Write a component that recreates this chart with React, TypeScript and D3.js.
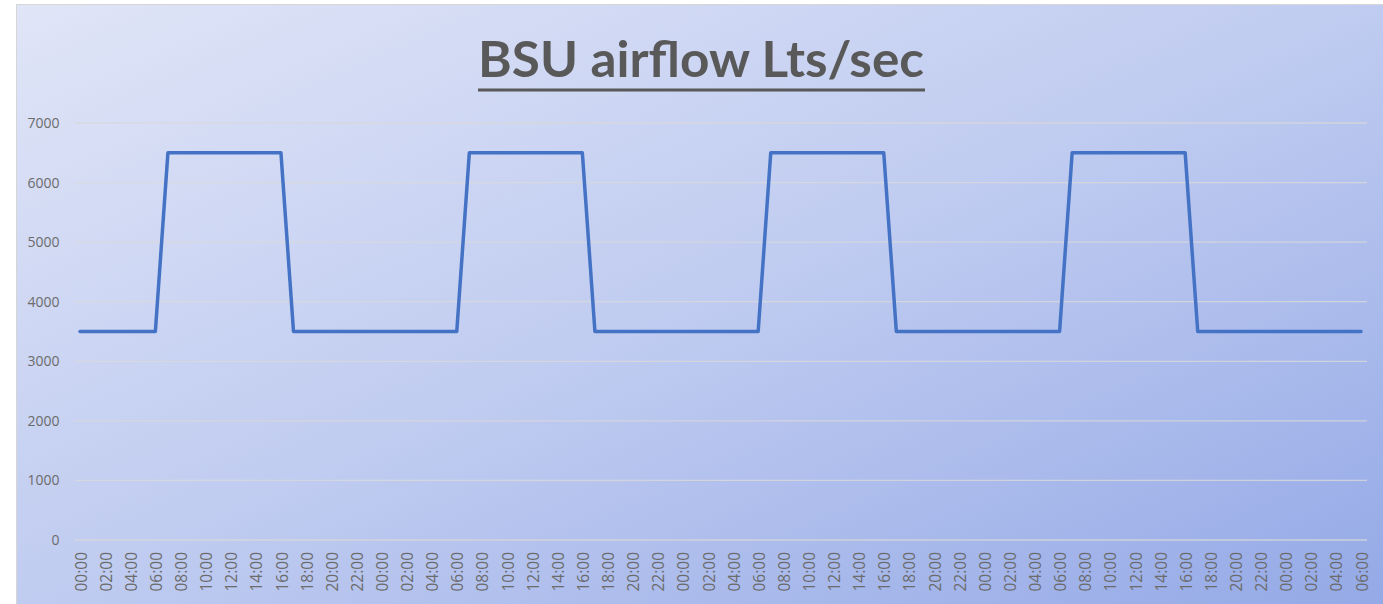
import React from "react";
import * as d3 from "d3";

const title = "BSU airflow Lts/sec";

const times: string[] = [
  "00:00","01:00","02:00","03:00","04:00","05:00","06:00","07:00","08:00","09:00","10:00","11:00",
  "12:00","13:00","14:00","15:00","16:00","17:00","18:00","19:00","20:00","21:00","22:00","23:00",
  "00:00","01:00","02:00","03:00","04:00","05:00","06:00","07:00","08:00","09:00","10:00","11:00",
  "12:00","13:00","14:00","15:00","16:00","17:00","18:00","19:00","20:00","21:00","22:00","23:00",
  "00:00","01:00","02:00","03:00","04:00","05:00","06:00","07:00","08:00","09:00","10:00","11:00",
  "12:00","13:00","14:00","15:00","16:00","17:00","18:00","19:00","20:00","21:00","22:00","23:00",
  "00:00","01:00","02:00","03:00","04:00","05:00","06:00","07:00","08:00","09:00","10:00","11:00",
  "12:00","13:00","14:00","15:00","16:00","17:00","18:00","19:00","20:00","21:00","22:00","23:00",
  "00:00","01:00","02:00","03:00","04:00","05:00","06:00",
];

const airflow: number[] = [
  3500,3500,3500,3500,3500,3500,3500,6500,6500,6500,6500,6500,
  6500,6500,6500,6500,6500,3500,3500,3500,3500,3500,3500,3500,
  3500,3500,3500,3500,3500,3500,3500,6500,6500,6500,6500,6500,
  6500,6500,6500,6500,6500,3500,3500,3500,3500,3500,3500,3500,
  3500,3500,3500,3500,3500,3500,3500,6500,6500,6500,6500,6500,
  6500,6500,6500,6500,6500,3500,3500,3500,3500,3500,3500,3500,
  3500,3500,3500,3500,3500,3500,3500,6500,6500,6500,6500,6500,
  6500,6500,6500,6500,6500,3500,3500,3500,3500,3500,3500,3500,
  3500,3500,3500,3500,3500,3500,3500,
];

const yTicks: number[] = [0, 1000, 2000, 3000, 4000, 5000, 6000, 7000];

export default function App() {
  const W = 1383;
  const H = 604;
  const x = d3.scalePoint<number>().domain(times.map((_, i) => i)).range([80, 1361]);
  const y = d3.scaleLinear().domain([0, 7000]).range([540, 123]);
  const line = d3
    .line<number>()
    .x((_, i) => x(i) as number)
    .y((d) => y(d));
  const gridX0 = 74.5;
  const gridX1 = 1367;
  const labelColor = "#6b6b6b";
  const font = "'Open Sans', sans-serif";

  return (
    <svg
      width={W}
      height={H}
      style={{ position: "absolute", left: 0, top: 0, display: "block" }}
    >
      <defs>
        <linearGradient id="bg" x1="0" y1="0" x2="1" y2="1">
          <stop offset="0" stopColor="#e0e5f7" />
          <stop offset="0.5" stopColor="#bfcbf0" />
          <stop offset="1" stopColor="#93a8e6" />
        </linearGradient>
      </defs>
      <rect x={0} y={0} width={W} height={H} fill="#ffffff" />
      <rect
        x={16.5}
        y={4.5}
        width={1380}
        height={610}
        fill="url(#bg)"
        stroke="#d6d6d6"
        strokeWidth={1}
      />
      {yTicks.map((t) => (
        <g key={t}>
          <line
            x1={gridX0}
            x2={gridX1}
            y1={y(t)}
            y2={y(t)}
            stroke="#d9d9d9"
            strokeOpacity={0.8}
            strokeWidth={1.3}
          />
          <text
            x={59.5}
            y={y(t)}
            dy="0.36em"
            textAnchor="end"
            fontFamily={font}
            fontSize={14}
            fill={labelColor}
          >
            {t}
          </text>
        </g>
      ))}
      {times.map((t, i) =>
        i % 2 === 0 ? (
          <text
            key={i}
            transform={`translate(${(x(i) as number) + 1},552) rotate(-90)`}
            dy="0.36em"
            textAnchor="end"
            fontFamily={font}
            fontSize={15.5}
            fill={labelColor}
          >
            {t}
          </text>
        ) : null
      )}
      <path
        d={line(airflow) || ""}
        fill="none"
        stroke="#4472c4"
        strokeWidth={3.5}
        strokeLinejoin="round"
        strokeLinecap="round"
      />
      <text
        x={701}
        y={77}
        textAnchor="middle"
        fontFamily="Lato, sans-serif"
        fontWeight="bold"
        fontSize={50}
        fill="#595959"
        textLength={446}
        lengthAdjust="spacingAndGlyphs"
      >
        {title}
      </text>
      <line x1={478} x2={925} y1={90} y2={90} stroke="#595959" strokeWidth={3} />
    </svg>
  );
}
